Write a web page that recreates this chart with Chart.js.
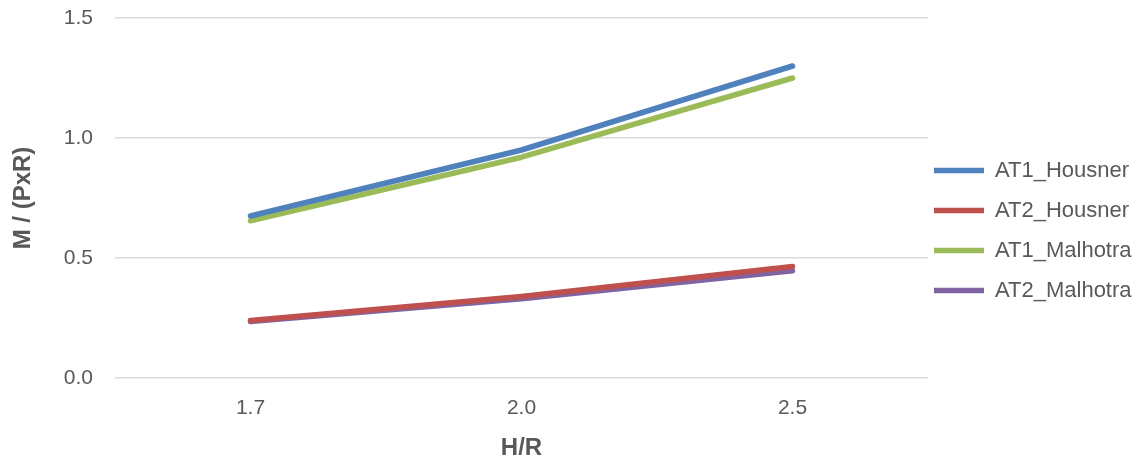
<!DOCTYPE html>
<html>
<head>
<meta charset="utf-8">
<script src="https://cdn.jsdelivr.net/npm/chart.js@4/dist/chart.umd.min.js"></script>
<style>
  html, body { margin: 0; padding: 0; background: #fff; }
  #wrap { width: 1144px; height: 463px; position: relative; }
</style>
</head>
<body>
<div id="wrap"><canvas id="chart"></canvas></div>
<script>
// ── Data ──
const categories = ['1.7', '2.0', '2.5'];
const at1Housner = [0.675, 0.95, 1.30];
const at2Housner = [0.24, 0.34, 0.465];
const at1Malhotra = [0.655, 0.92, 1.25];
const at2Malhotra = [0.235, 0.33, 0.447];
const yTicks = [0, 0.5, 1.0, 1.5];

const FONT = "'Liberation Sans', Arial, sans-serif";
const TEXT = '#595959';

function series(label, data, color) {
  return {
    label: label,
    data: data,
    borderColor: color,
    backgroundColor: color,
    borderWidth: 5.5,
    borderCapStyle: 'round',
    borderJoinStyle: 'round',
    pointRadius: 0,
    pointHoverRadius: 0,
    tension: 0,
    fill: false
  };
}

// legend sits a bit closer to the plot than Chart.js puts it
const legendFix = {
  id: 'legendFix',
  afterInit(chart) {
    const lg = chart.legend;
    const fit = lg.fit;
    lg.fit = function () {
      fit.call(this);
      this.width = 216;
    };
  },
  afterLayout(chart) {
    const lg = chart.legend;
    lg.left -= 12;
    lg.right -= 12;
    lg.top -= 10;
    lg.bottom -= 10;
  }
};

new Chart(document.getElementById('chart').getContext('2d'), {
  type: 'line',
  data: {
    labels: categories,
    datasets: [
      series('AT1_Housner', at1Housner, '#4F81BD'),
      series('AT2_Housner', at2Housner, '#C0504D'),
      series('AT1_Malhotra', at1Malhotra, '#9BBB59'),
      series('AT2_Malhotra', at2Malhotra, '#8064A2')
    ]
  },
  plugins: [legendFix],
  options: {
    responsive: true,
    maintainAspectRatio: false,
    animation: false,
    layout: { padding: { top: 18, left: 9, bottom: 0, right: 0 } },
    plugins: {
      legend: {
        position: 'right',
        labels: {
          usePointStyle: true,
          pointStyle: 'line',
          pointStyleWidth: 50,
          boxWidth: 50,
          padding: 18,
          color: TEXT,
          font: { family: FONT, size: 22 }
        }
      },
      tooltip: { enabled: false }
    },
    scales: {
      x: {
        offset: true,
        afterFit: axis => { axis.height = 85; },
        grid: { display: false, drawTicks: false },
        border: { display: false },
        ticks: { color: TEXT, font: { family: FONT, size: 21 }, padding: 18 },
        title: {
          display: true,
          text: 'H/R',
          color: TEXT,
          font: { family: FONT, size: 24, weight: 'bold' },
          padding: { top: 12, bottom: 0 }
        }
      },
      y: {
        min: 0,
        max: 1.5,
        afterBuildTicks: axis => { axis.ticks = yTicks.map(v => ({ value: v })); },
        afterFit: axis => { axis.paddingTop = 0; axis.paddingBottom = 0; },
        grid: { color: '#D9D9D9', lineWidth: 1.5, drawTicks: false },
        border: { display: false },
        ticks: {
          color: TEXT,
          font: { family: FONT, size: 21 },
          padding: 22,
          callback: v => Number(v).toFixed(1)
        },
        title: {
          display: true,
          text: 'M / (PxR)',
          color: TEXT,
          font: { family: FONT, size: 24, weight: 'bold' },
          padding: { top: 0, bottom: 4 }
        }
      }
    }
  }
});
</script>
</body>
</html>
